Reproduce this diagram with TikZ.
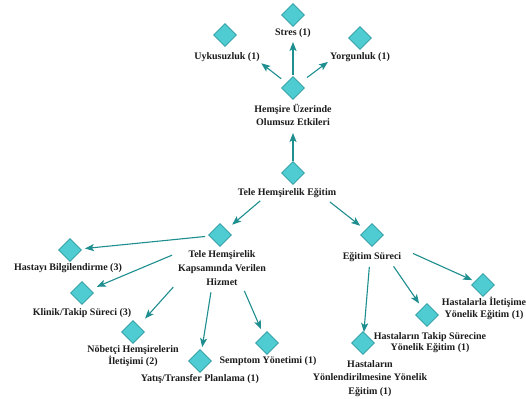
\documentclass[tikz,border=0pt]{standalone}
\usepackage{fontspec}
\setmainfont{Liberation Serif}
\usetikzlibrary{shapes.geometric,arrows.meta}
\definecolor{dfill}{HTML}{4FCBD2}
\definecolor{ddraw}{HTML}{2C9AA0}
\definecolor{arrc}{HTML}{1E8E8F}
\definecolor{txt}{HTML}{1C1C1C}
\tikzset{
  dia/.style={diamond,aspect=1,inner sep=0pt,minimum width=23pt,minimum height=23pt,fill=dfill,draw=ddraw,line width=0.6pt},
  lab/.style={font=\fontsize{10}{13}\selectfont\bfseries,text=txt,align=center,inner sep=1pt},
  arr/.style={draw=arrc,line width=1.1pt,-{Stealth[length=9pt,width=7pt,inset=2pt]}}
}
\begin{document}
\begin{tikzpicture}[x=1pt,y=-1pt]
\useasboundingbox[fill=white] (0,0) rectangle (526,398);
% diamonds
\node[dia] (dstres) at (293,15) {};
\node[dia] (dunk) at (225,35) {};
\node[dia] (dyorg) at (360,38) {};
\node[dia] (dhem) at (293,88) {};
\node[dia] (dteleg) at (293,173) {};
\node[dia] (dkap) at (220,235) {};
\node[dia] (degs) at (372,235) {};
\node[dia] (dhb) at (70,250) {};
\node[dia] (dkl) at (82,293) {};
\node[dia] (dnob) at (133,332) {};
\node[dia] (dyat) at (200,361) {};
\node[dia] (dsem) at (267,343) {};
\node[dia] (dhil) at (483,285) {};
\node[dia] (dtak) at (427,315) {};
\node[dia] (dyon) at (363,343) {};
% labels
\node[lab] (lstres) at (293,33) {Stres (1)};
\node[lab] (lunk) at (227,57) {Uykusuzluk (1)};
\node[lab] (lyorg) at (360,57) {Yorgunluk (1)};
\node[lab] (lhem) at (293,114.5) {Hemşire Üzerinde\\Olumsuz Etkileri};
\node[lab] (lteleg) at (287,193) {Tele Hemşirelik Eğitim};
\node[lab,font=\fontsize{10}{14}\selectfont\bfseries] (lkap) at (222,268) {Tele Hemşirelik\\Kapsamında Verilen\\Hizmet};
\node[lab] (lhb) at (68,268) {Hastayı Bilgilendirme (3)};
\node[lab] (lkl) at (82,313) {Klinik/Takip Süreci (3)};
\node[lab,font=\fontsize{10}{12}\selectfont\bfseries] (lnob) at (133,356) {Nöbetçi Hemşirelerin\\İletişimi (2)};
\node[lab] (lyat) at (200,379) {Yatış/Transfer Planlama (1)};
\node[lab] (lsem) at (268,361) {Semptom Yönetimi (1)};
\node[lab] (legs) at (372,257) {Eğitim Süreci};
\node[lab,font=\fontsize{10}{11.5}\selectfont\bfseries] (lhil) at (484,308.5) {Hastalarla İletişime\\Yönelik Eğitim (1)};
\node[lab,font=\fontsize{10}{11.5}\selectfont\bfseries] (ltak) at (430,342.5) {Hastaların Takip Sürecine\\Yönelik Eğitim (1)};
\node[lab,font=\fontsize{10}{13.5}\selectfont\bfseries] (lyon) at (370,378.5) {Hastaların\\Yönlendirilmesine Yönelik\\Eğitim (1)};
% connectors
\draw[arr,shorten <=15pt,shorten >=46pt] (dhem.center) -- (dunk.center);
\draw[arr,shorten <=13pt,shorten >=27pt] (dhem.center) -- (dstres.center);
\draw[arr,shorten <=17.5pt,shorten >=40pt] (dhem.center) -- (dyorg.center);
\draw[arr,shorten <=12pt,shorten >=45pt] (dteleg.center) -- (dhem.center);
\draw[arr,shorten <=43pt,shorten >=16pt] (dteleg.center) -- (dkap.center);
\draw[arr,shorten <=47pt,shorten >=15pt] (dteleg.center) -- (degs.center);
\draw[arr,shorten <=15pt,shorten >=15pt] (dkap.center) -- (dhb.center);
\draw[arr,shorten <=52pt,shorten >=16pt] (dkap.center) -- (dkl.center);
\draw[arr,shorten <=70pt,shorten >=18pt] (dkap.center) -- (dnob.center);
\draw[arr,shorten <=58pt,shorten >=14pt] (dkap.center) -- (dyat.center);
\draw[arr,shorten <=61pt,shorten >=15pt] (dkap.center) -- (dsem.center);
\draw[arr,shorten <=45pt,shorten >=12pt] (degs.center) -- (dhil.center);
\draw[arr,shorten <=38pt,shorten >=14pt] (degs.center) -- (dtak.center);
\draw[arr,shorten <=32pt,shorten >=11pt] (degs.center) -- (dyon.center);
\end{tikzpicture}
\end{document}
